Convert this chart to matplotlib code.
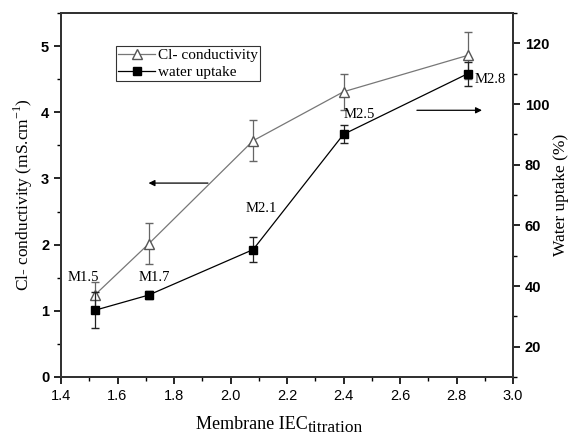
import numpy as np
import matplotlib.pyplot as plt
from matplotlib.ticker import MultipleLocator
from matplotlib.lines import Line2D

plt.rcParams['mathtext.fontset'] = 'custom'
plt.rcParams['mathtext.rm'] = 'Liberation Serif'

iec = [1.52, 1.71, 2.08, 2.40, 2.84]
cond = [1.24, 2.01, 3.57, 4.31, 4.86]
cond_err = [0.20, 0.31, 0.31, 0.27, 0.35]
water = [32, 37, 52, 90, 110]
water_err = [6, 1.2, 4, 3, 4]
labels = ['M1.5', 'M1.7', 'M2.1', 'M2.5', 'M2.8']
label_pos = [(1.478, 1.51), (1.73, 1.51), (2.108, 2.55), (2.455, 3.97), (2.92, 4.49)]

fig = plt.figure(figsize=(5.74, 4.37), dpi=100)
ax = fig.add_axes([61/574, 1 - 377/437, 452/574, 364/437])
ax2 = ax.twinx()

serif = 'Liberation Serif'
sans = 'Liberation Sans'

ax.errorbar(iec, cond, yerr=cond_err, color='#777777', lw=0.9, marker='^', ms=7,
            mfc='white', mec='#555555', ecolor='#666666', elinewidth=0.9, capsize=3)
ax2.errorbar(iec, water, yerr=water_err, color='black', lw=0.9, marker='s', ms=6,
             mfc='black', mec='black', ecolor='#222222', elinewidth=0.9, capsize=3)

ax.set_xlim(1.4, 3.0)
ax.set_ylim(0, 5.5)
ax2.set_ylim(10, 130)

ax.xaxis.set_major_locator(MultipleLocator(0.2))
ax.xaxis.set_minor_locator(MultipleLocator(0.1))
ax.yaxis.set_major_locator(MultipleLocator(1))
ax.yaxis.set_minor_locator(MultipleLocator(0.5))
ax2.yaxis.set_major_locator(MultipleLocator(20))
ax2.yaxis.set_minor_locator(MultipleLocator(10))

for a in (ax, ax2):
    for s in a.spines.values():
        s.set_linewidth(1.4)
        s.set_color('#333333')
    a.tick_params(which='major', direction='out', length=5, width=1.2)
    a.tick_params(which='minor', direction='out', length=3, width=1.0)
    for t in a.get_yticklabels():
        t.set_fontfamily(sans)
        t.set_fontweight('bold')
        t.set_fontsize(10.5)

ax.set_xticks([1.4, 1.6, 1.8, 2.0, 2.2, 2.4, 2.6, 2.8, 3.0])
ax.set_xticklabels(['1.4', '1.6', '1.8', '2.0', '2.2', '2.4', '2.6', '2.8', '3.0'],
                   fontfamily=sans, fontsize=10.5)

# x label: subscript drawn at nearly full size, as in the reference
fig.text(308/574, 1 - 429/437, 'Membrane IEC', ha='right', va='baseline',
         fontfamily=serif, fontsize=13)
fig.text(308/574, 1 - 432/437, 'titration', ha='left', va='baseline',
         fontfamily=serif, fontsize=12.5)

ax.set_ylabel(r'Cl- conductivity (mS.cm$^{\mathrm{-1}}$)', fontfamily=serif, fontsize=12.5)
ax2.set_ylabel('Water uptake (%)', fontfamily=serif, fontsize=12.5, labelpad=3)

for lab, (x, y) in zip(labels, label_pos):
    ax.text(x, y, lab, ha='center', va='center', fontfamily=serif, fontsize=10.5)

ax.annotate('', xy=(1.70, 2.93), xytext=(1.93, 2.93),
            arrowprops=dict(arrowstyle='-|>', color='black', lw=0.9, mutation_scale=9))
ax.annotate('', xy=(2.90, 4.03), xytext=(2.65, 4.03),
            arrowprops=dict(arrowstyle='-|>', color='black', lw=0.9, mutation_scale=9))

h1 = Line2D([], [], color='#777777', lw=0.9, marker='^', ms=7, mfc='white', mec='#555555')
h2 = Line2D([], [], color='black', lw=0.9, marker='s', ms=6, mfc='black', mec='black')
leg = ax.legend([h1, h2], ['Cl- conductivity', 'water uptake'], loc='upper left',
                bbox_to_anchor=(0.122, 0.909), frameon=True, fancybox=False,
                prop={'family': serif, 'size': 11}, handlelength=2.4, borderpad=0.15,
                labelspacing=0.2, handletextpad=0.2, borderaxespad=0)
leg.get_frame().set_edgecolor('black')
leg.get_frame().set_linewidth(0.8)

plt.savefig('out.png', dpi=100)
